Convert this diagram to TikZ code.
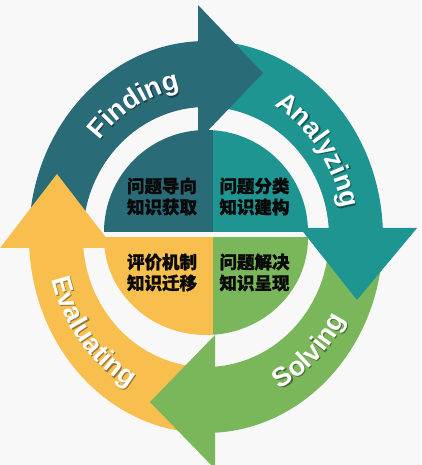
\documentclass[tikz,border=0pt]{standalone}
\usepackage{fontspec}
\newfontfamily\lat{Liberation Sans}
\newfontfamily\cjk{Noto Sans CJK SC}[BoldFeatures={FakeBold=1.2}]
\usetikzlibrary{decorations.text}
\definecolor{cFind}{HTML}{2A6B78}
\definecolor{cAnal}{HTML}{1E9591}
\definecolor{cSolv}{HTML}{7AB65A}
\definecolor{cEval}{HTML}{F8BF4F}
\definecolor{bgc}{HTML}{F8F8F8}
\definecolor{ink}{HTML}{0A0A0A}
\colorlet{sFind}{cFind!60!black}
\colorlet{sAnal}{cAnal!60!black}
\colorlet{sSolv}{cSolv!60!black}
\colorlet{sEval}{cEval!60!black}
\newcommand\arcfnt{\lat\bfseries\fontsize{27}{27}\selectfont}
\newcommand\myband[5]{\fill[#1] ([shift={(#2:177pt and 196pt)}]C) arc[start angle=#2,end angle=#3,x radius=177pt,y radius=196pt] -- ([shift={(#4:123pt and 130pt)}]C) arc[start angle=#4,end angle=#5,x radius=123pt,y radius=130pt] -- cycle;}
\tikzset{cjktext/.style={align=center,inner sep=0pt,text=ink,font=\cjk\bfseries\fontsize{17.5}{21}\selectfont}}
\begin{document}
\begin{tikzpicture}[x=1pt,y=1pt]
\useasboundingbox (0,0) rectangle (421,465);
\fill[bgc] (0,0) rectangle (421,465);
\coordinate (C) at (206,228);
\coordinate (Cs) at (207.2,226.8);
% bands
\myband{cFind}{180}{92.6}{93.7}{180}
\myband{cAnal}{90}{2.63}{3.97}{90}
\myband{cSolv}{0}{-87.1}{-85.8}{0}
\myband{cEval}{-90}{-176.8}{-175.15}{-90}
% pie
\begin{scope}\clip (0,233) rectangle (213,465); \fill[cFind] (206,233) circle[radius=102pt];\end{scope}
\begin{scope}\clip (213,233) rectangle (421,465); \fill[cAnal] (206,233) circle[radius=102pt];\end{scope}
\begin{scope}\clip (0,0) rectangle (213,227); \fill[cEval] (206,227) ellipse[x radius=102pt,y radius=97pt];\end{scope}
\begin{scope}\clip (213,0) rectangle (421,227); \fill[cSolv] (206,227) ellipse[x radius=102pt,y radius=97pt];\end{scope}
% arrowheads
\fill[cFind] (198,460) -- (263,392) -- (198,324) -- cycle;
\fill[cAnal] (300,237) -- (417,237) -- (357,165) -- cycle;
\fill[cSolv] (215,130) -- (150,63) -- (215,-4) -- cycle;
\fill[cEval] (0,217) -- (57,291) -- (114,217) -- cycle;
% arc labels (shadow, then white)
\path[decorate,decoration={text along path,text align=center,text={|\arcfnt\color{sFind}|Finding}}] ([shift={(156:138pt and 151pt)}]Cs) arc[start angle=156,end angle=84,x radius=138pt,y radius=151pt];
\path[decorate,decoration={text along path,text align=center,text={|\arcfnt\color{white}|Finding}}] ([shift={(156:138pt and 151pt)}]C) arc[start angle=156,end angle=84,x radius=138pt,y radius=151pt];
\path[decorate,decoration={text along path,text align=center,text={|\arcfnt\color{sAnal}|Analyzing}}] ([shift={(72:138pt and 151pt)}]Cs) arc[start angle=72,end angle=0,x radius=138pt,y radius=151pt];
\path[decorate,decoration={text along path,text align=center,text={|\arcfnt\color{white}|Analyzing}}] ([shift={(72:138pt and 151pt)}]C) arc[start angle=72,end angle=0,x radius=138pt,y radius=151pt];
\path[decorate,decoration={text along path,text align=center,text={|\arcfnt\color{sSolv}|Solving}}] ([shift={(-81:159pt and 172pt)}]Cs) arc[start angle=-81,end angle=-11,x radius=159pt,y radius=172pt];
\path[decorate,decoration={text along path,text align=center,text={|\arcfnt\color{white}|Solving}}] ([shift={(-81:159pt and 172pt)}]C) arc[start angle=-81,end angle=-11,x radius=159pt,y radius=172pt];
\path[decorate,decoration={text along path,text align=center,text={|\arcfnt\color{sEval}|Evaluating}}] ([shift={(183:159pt and 172pt)}]Cs) arc[start angle=183,end angle=253,x radius=159pt,y radius=172pt];
\path[decorate,decoration={text along path,text align=center,text={|\arcfnt\color{white}|Evaluating}}] ([shift={(183:159pt and 172pt)}]C) arc[start angle=183,end angle=253,x radius=159pt,y radius=172pt];
% centre texts
\node[cjktext] (q1) at (162,268.5) {问题导向\\知识获取};
\node[cjktext] (q2) at (254.5,268.5) {问题分类\\知识建构};
\node[cjktext] (q3) at (162,192.5) {评价机制\\知识迁移};
\node[cjktext] (q4) at (254.5,192.5) {问题解决\\知识呈现};
\end{tikzpicture}
\end{document}
